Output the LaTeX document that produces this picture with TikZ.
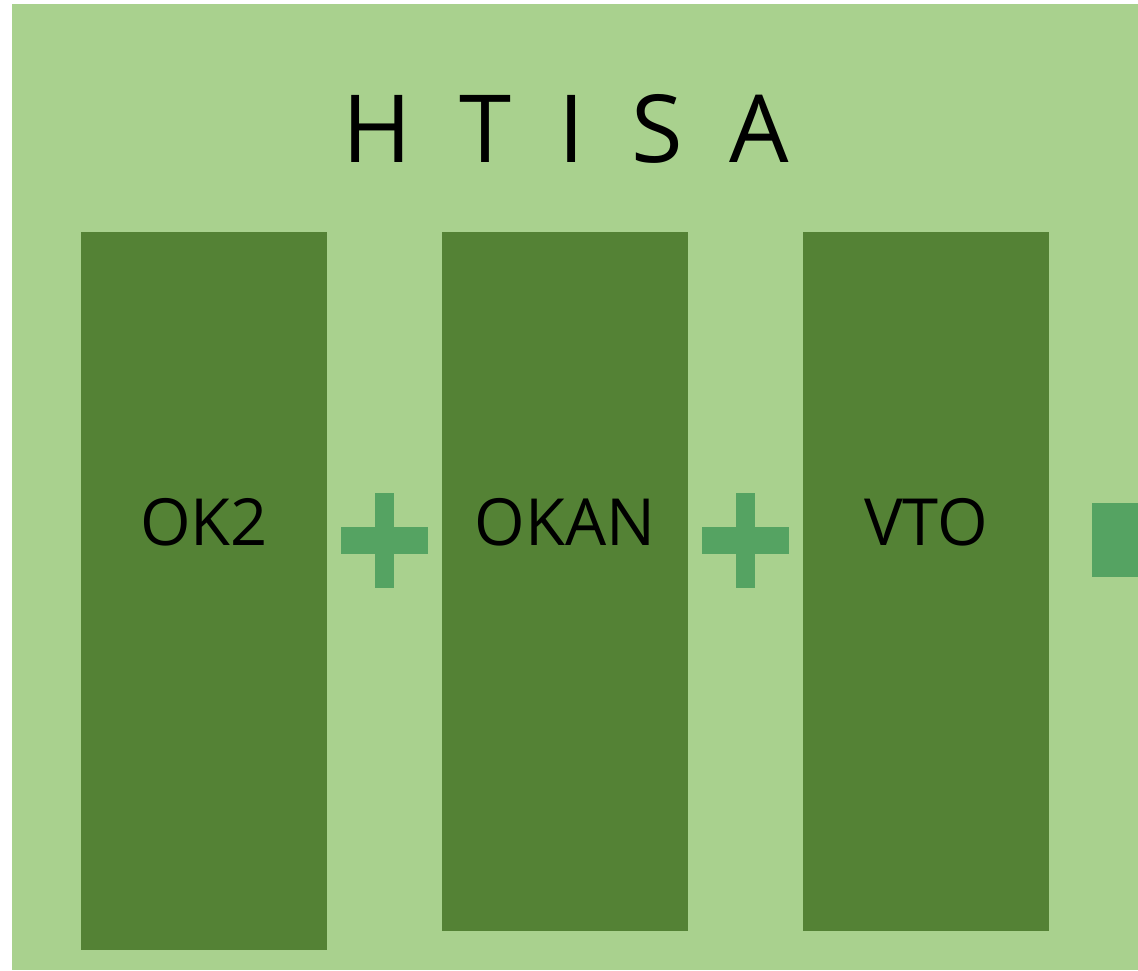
\documentclass[tikz,border=0pt]{standalone}
\usepackage{fontspec}
\setmainfont{Open Sans}
\definecolor{bglight}{HTML}{A9D18E}
\definecolor{boxdark}{HTML}{548235}
\definecolor{plusgreen}{HTML}{55A362}
\begin{document}
\begin{tikzpicture}[x=1pt,y=-1pt,
  bar/.style={fill=boxdark,draw=none},
  plusbar/.style={fill=plusgreen,draw=none},
  lbl/.style={font=\fontsize{65}{70}\selectfont,text=black,inner sep=0pt,anchor=base}]
\useasboundingbox (0,0) rectangle (1138,970);
\fill[bglight] (12,4) rectangle (1138,970);
\node[font=\fontsize{94}{100}\selectfont,inner sep=0pt,anchor=base] (title) at (566,162) {H\hspace{0.5em}T\hspace{0.5em}I\hspace{0.5em}S\hspace{0.5em}A};
\path[bar] (81,232) rectangle (327,950) node[midway] (b1) {};
\path[bar] (442,232) rectangle (688,931) node[midway] (b2) {};
\path[bar] (803,232) rectangle (1049,931) node[midway] (b3) {};
\node[lbl] (t1) at (204,545) {OK2};
\node[lbl] (t2) at (565,545) {OKAN};
\node[lbl] (t3) at (926,545) {VTO};
\path[plusbar] (341,527) rectangle (428,554);
\path[plusbar] (375,493) rectangle (394,588);
\path[plusbar] (702,527) rectangle (789,554);
\path[plusbar] (736,493) rectangle (755,588);
\path[plusbar] (1092,503) rectangle (1138,577);
\end{tikzpicture}
\end{document}
